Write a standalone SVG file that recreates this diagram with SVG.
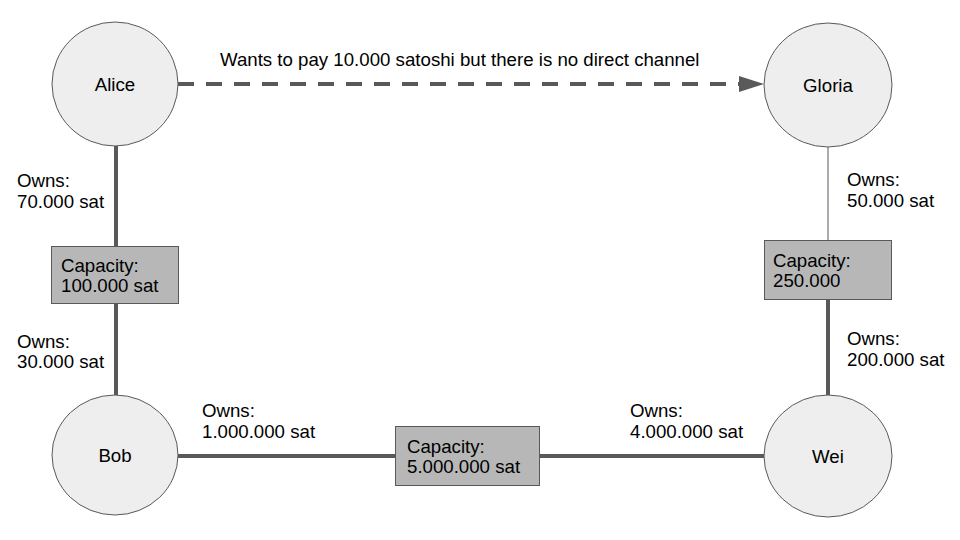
<svg xmlns="http://www.w3.org/2000/svg" width="960" height="540" viewBox="0 0 960 540">
<style>
text{font-family:"Liberation Sans",Arial,sans-serif;font-size:18.67px;fill:#000}
.node{fill:#eeeeee;stroke:#595959;stroke-width:1}
.cap{fill:#b7b7b7;stroke:#595959;stroke-width:1}
.thick{stroke:#595959;stroke-width:4;fill:none}
.thin{stroke:#595959;stroke-width:1;fill:none}
.dash{stroke:#595959;stroke-width:4;fill:none;stroke-dasharray:16 12}
.mid{text-anchor:middle}
</style>
<rect width="960" height="540" fill="#ffffff"/>
<g id="connectors">
<line class="thick" x1="116" y1="146" x2="116" y2="395"/>
<line class="thin" x1="828" y1="147" x2="828" y2="240"/>
<line class="thick" x1="828" y1="300" x2="828" y2="395"/>
<line class="thick" x1="178" y1="456" x2="766" y2="456"/>
<line class="dash" x1="178" y1="84" x2="740" y2="84"/>
<polygon points="739,76 764,84 739,92" fill="#595959"/>
<text x="220" y="66">Wants to pay 10.000 satoshi but there is no direct channel</text>
<text x="17" y="187">Owns:</text>
<text x="17" y="208">70.000 sat</text>
<text x="17" y="348">Owns:</text>
<text x="17" y="368">30.000 sat</text>
<text x="847" y="186">Owns:</text>
<text x="847" y="207">50.000 sat</text>
<text x="847" y="345">Owns:</text>
<text x="847" y="366">200.000 sat</text>
<text x="202" y="417">Owns:</text>
<text x="202" y="438">1.000.000 sat</text>
<text x="630" y="417">Owns:</text>
<text x="630" y="438">4.000.000 sat</text>
</g>
<g id="cap-alice-bob">
<rect class="cap" x="51.5" y="246.5" width="127" height="57"/>
<text x="61" y="272">Capacity:</text>
<text x="61" y="292">100.000 sat</text>
</g>
<g id="cap-gloria-wei">
<rect class="cap" x="764.5" y="240.5" width="127" height="59"/>
<text x="773" y="267">Capacity:</text>
<text x="773" y="287">250.000</text>
</g>
<g id="cap-bob-wei">
<rect class="cap" x="395.5" y="426.5" width="144" height="59"/>
<text x="407" y="453">Capacity:</text>
<text x="407" y="473">5.000.000 sat</text>
</g>
<g id="alice">
<ellipse class="node" cx="115" cy="84" rx="63" ry="62"/>
<text class="mid" x="115" y="91">Alice</text>
</g>
<g id="gloria">
<ellipse class="node" cx="828" cy="85" rx="64" ry="62"/>
<text class="mid" x="828" y="92">Gloria</text>
</g>
<g id="bob">
<ellipse class="node" cx="115" cy="455" rx="63" ry="60"/>
<text class="mid" x="115" y="462">Bob</text>
</g>
<g id="wei">
<ellipse class="node" cx="828" cy="456" rx="64" ry="61"/>
<text class="mid" x="828" y="463">Wei</text>
</g>
</svg>
